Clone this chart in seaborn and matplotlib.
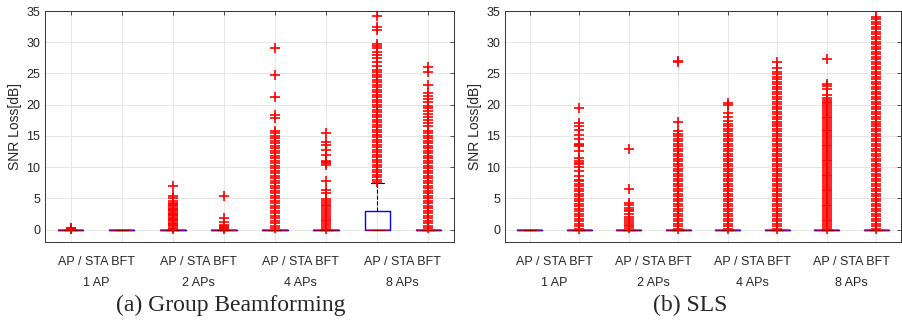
import numpy as np
import pandas as pd
import matplotlib
matplotlib.use('Agg')
import matplotlib.pyplot as plt
import matplotlib.transforms as mtransforms
import seaborn as sns

# categories
groups = ['1 AP', '2 APs', '4 APs', '8 APs']
pair_label = 'AP / STA BFT'
captions = ['(a) Group Beamforming', '(b) SLS']

# most samples have no SNR loss at all
n_zero = 400

# (a) Group Beamforming - non zero SNR loss values [dB]
gb_1ap_ap = [0.05, 0.1, 0.15, 0.2, 0.3]
gb_1ap_sta = []
gb_2ap_ap = [0.1, 0.3, 0.5, 0.7, 0.9, 1.1, 1.3, 1.5, 1.7, 1.9, 2.1, 2.3, 2.5, 2.7, 2.9,
             3.1, 3.3, 3.5, 3.7, 3.9, 4.1, 4.3, 4.5, 5.0, 5.3, 7.0]
gb_2ap_sta = [0.1, 0.2, 0.4, 0.6, 0.8, 1.2, 1.8, 5.3]
gb_4ap_ap = [0.2, 0.6, 1.0, 1.4, 1.8, 2.2, 2.6, 3.0, 3.4, 3.8, 4.2, 4.6, 5.0, 5.4, 5.8,
             6.2, 6.6, 7.0, 7.4, 7.8, 8.2, 8.6, 9.0, 9.4, 9.8, 10.2, 10.6, 11.0, 11.4,
             11.8, 12.2, 12.6, 13.0, 13.4, 13.8, 14.2, 14.6, 15.0, 15.4, 15.8, 17.8,
             18.3, 21.2, 24.7, 29.0]
gb_4ap_sta = [0.1, 0.4, 0.7, 1.0, 1.3, 1.6, 1.9, 2.2, 2.5, 2.8, 3.1, 3.4, 3.7, 4.0, 4.3,
              4.6, 4.9, 5.8, 6.4, 7.7, 10.4, 10.6, 10.8, 11.0, 12.0, 12.8, 13.5, 14.0, 15.5]
# 8 APs / AP has a real box (0 .. 3 dB, whisker to ~7.4 dB)
gb_8ap_ap_core = [0.5, 1.0, 1.5, 2.0, 2.5, 3.0, 3.5, 4.0, 4.5, 5.0, 5.5, 6.0, 6.5, 7.0, 7.4]
gb_8ap_ap_core_n = [16, 16, 16, 16, 16, 80, 5, 5, 5, 5, 5, 5, 5, 5, 5]
gb_8ap_ap = [7.6, 8.0, 8.4, 8.8, 9.2, 9.6, 10.0, 10.4, 10.8, 11.2, 11.6, 12.0, 12.4, 12.8,
             13.2, 13.6, 14.0, 14.4, 14.8, 15.2, 15.6, 16.0, 16.4, 16.8, 17.2, 17.6, 18.0,
             18.4, 18.8, 19.2, 19.6, 20.0, 20.4, 20.8, 21.2, 21.6, 22.0, 22.4, 22.8, 23.2,
             23.6, 24.0, 24.4, 24.8, 25.2, 25.6, 26.2, 26.8, 27.4, 27.9, 28.4, 29.0, 29.4,
             29.7, 31.9, 32.5, 34.2]
gb_8ap_sta = [0.2, 0.6, 1.0, 1.4, 1.8, 2.2, 2.6, 3.0, 3.4, 3.8, 4.2, 4.6, 5.0, 5.4, 5.8,
              6.2, 6.6, 7.0, 7.4, 7.8, 8.2, 8.6, 9.0, 9.4, 9.8, 10.2, 10.6, 11.0, 11.4,
              11.8, 12.2, 12.6, 13.0, 13.4, 13.8, 14.2, 14.6, 15.0, 15.4, 15.8, 16.5, 17.0,
              17.5, 18.0, 18.5, 19.0, 19.5, 19.8, 20.4, 20.9, 21.4, 21.8, 23.1, 25.2, 26.0]

# (b) SLS - non zero SNR loss values [dB]
sls_1ap_ap = []
sls_1ap_sta = [0.1, 0.5, 0.9, 1.3, 1.7, 2.1, 2.5, 2.9, 3.3, 3.7, 4.1, 4.5, 4.9, 5.3, 5.7,
               6.1, 6.5, 6.9, 7.3, 7.7, 7.9, 8.5, 9.3, 10.0, 10.5, 10.7, 10.9, 11.5, 12.6,
               13.3, 13.5, 13.7, 14.5, 15.2, 16.0, 16.5, 17.0, 19.5]
sls_2ap_ap = [0.2, 0.5, 0.8, 1.1, 1.4, 1.7, 2.0, 2.5, 2.9, 3.2, 3.5, 3.9, 4.2, 6.5, 12.9]
sls_2ap_sta = [0.1, 0.5, 0.9, 1.3, 1.7, 2.1, 2.5, 2.9, 3.3, 3.7, 4.1, 4.5, 4.9, 5.3, 5.7,
               6.1, 6.5, 6.9, 7.3, 7.7, 8.1, 8.5, 8.9, 9.3, 9.7, 10.1, 10.5, 10.9, 11.3,
               11.7, 12.1, 12.5, 12.9, 13.3, 13.7, 14.1, 14.5, 14.9, 15.3, 15.8, 17.2,
               26.9, 27.0]
sls_4ap_ap = [0.1, 0.5, 0.9, 1.3, 1.7, 2.1, 2.5, 2.9, 3.3, 3.7, 4.1, 4.5, 4.9, 5.3, 5.7,
              6.1, 6.5, 6.9, 7.3, 7.7, 8.1, 8.5, 8.9, 9.3, 9.7, 10.1, 10.5, 10.9, 11.3,
              11.7, 12.1, 12.5, 12.9, 13.3, 13.7, 14.1, 14.5, 14.9, 15.3, 15.7, 16.1,
              16.5, 16.9, 17.4, 18.0, 18.7, 20.0, 20.2]
sls_4ap_sta = [0.1, 0.5, 0.9, 1.3, 1.7, 2.1, 2.5, 2.9, 3.3, 3.7, 4.1, 4.5, 4.9, 5.3, 5.7,
               6.1, 6.5, 6.9, 7.3, 7.7, 8.1, 8.5, 8.9, 9.3, 9.7, 10.1, 10.5, 10.9, 11.3,
               11.7, 12.1, 12.5, 12.9, 13.3, 13.7, 14.1, 14.5, 14.9, 15.3, 15.7, 16.1,
               16.5, 16.9, 17.3, 17.7, 18.1, 18.5, 18.9, 19.3, 19.7, 20.1, 20.5, 20.9,
               21.3, 21.7, 22.1, 22.5, 22.9, 23.3, 23.7, 24.1, 24.5, 24.9, 25.3, 25.8, 26.8]
sls_8ap_ap = [0.1, 0.4, 0.7, 1.0, 1.3, 1.6, 1.9, 2.2, 2.5, 2.8, 3.1, 3.4, 3.7, 4.0, 4.3,
              4.6, 4.9, 5.2, 5.5, 5.8, 6.1, 6.4, 6.7, 7.0, 7.3, 7.6, 7.9, 8.2, 8.5, 8.8,
              9.1, 9.4, 9.7, 10.0, 10.3, 10.6, 10.9, 11.2, 11.5, 11.8, 12.1, 12.4, 12.7,
              13.0, 13.3, 13.6, 13.9, 14.2, 14.5, 14.8, 15.1, 15.4, 15.7, 16.0, 16.3,
              16.6, 16.9, 17.2, 17.5, 17.8, 18.1, 18.4, 18.7, 19.0, 19.3, 19.6, 19.9,
              20.2, 20.5, 20.8, 21.1, 21.5, 22.5, 23.0, 23.3, 27.3]
sls_8ap_sta = [0.1, 0.5, 0.9, 1.3, 1.7, 2.1, 2.5, 2.9, 3.3, 3.7, 4.1, 4.5, 4.9, 5.3, 5.7,
               6.1, 6.5, 6.9, 7.3, 7.7, 8.1, 8.5, 8.9, 9.3, 9.7, 10.1, 10.5, 10.9, 11.3,
               11.7, 12.1, 12.5, 12.9, 13.3, 13.7, 14.1, 14.5, 14.9, 15.3, 15.7, 16.1,
               16.5, 16.9, 17.3, 17.7, 18.1, 18.5, 18.9, 19.3, 19.7, 20.1, 20.5, 20.9,
               21.3, 21.7, 22.1, 22.5, 22.9, 23.3, 23.7, 24.1, 24.5, 24.9, 25.3, 25.7,
               26.1, 26.5, 26.9, 27.3, 27.7, 28.1, 28.5, 28.9, 29.3, 29.7, 30.1, 30.5,
               30.9, 31.3, 31.7, 32.1, 32.5, 32.9, 33.3, 33.7, 34.1]

gb_cols = [gb_1ap_ap, gb_1ap_sta, gb_2ap_ap, gb_2ap_sta, gb_4ap_ap, gb_4ap_sta,
           list(np.repeat(gb_8ap_ap_core, gb_8ap_ap_core_n)) + gb_8ap_ap, gb_8ap_sta]
sls_cols = [sls_1ap_ap, sls_1ap_sta, sls_2ap_ap, sls_2ap_sta, sls_4ap_ap, sls_4ap_sta,
            sls_8ap_ap, sls_8ap_sta]


def make_df(cols):
    parts = []
    for i, vals in enumerate(cols):
        loss = np.concatenate([np.zeros(n_zero), np.asarray(vals, dtype=float)])
        parts.append(pd.DataFrame({'box': i, 'loss': loss}))
    return pd.concat(parts, ignore_index=True)


sns.set_theme(style='white')
plt.rcParams['font.family'] = ['Liberation Sans', 'DejaVu Sans']

fig = plt.figure(figsize=(9.03, 3.2), dpi=100)
ax1 = fig.add_axes([45 / 903, 78 / 320, 409 / 903, 231 / 320])
ax2 = fig.add_axes([505 / 903, 78 / 320, 396 / 903, 231 / 320])

for ax, cols in [(ax1, gb_cols), (ax2, sls_cols)]:
    df = make_df(cols)
    sns.boxplot(data=df, x='box', y='loss', ax=ax, width=0.5, whis=1.5,
                fill=False, color='blue', linewidth=1.0,
                boxprops=dict(color='blue'),
                medianprops=dict(color='red', linewidth=1.2, alpha=0.65),
                whiskerprops=dict(color='black', linestyle='--', linewidth=0.8),
                capprops=dict(color='black', linewidth=0.8),
                flierprops=dict(marker='+', markeredgecolor='red', markerfacecolor='red',
                                markersize=6.5, markeredgewidth=1.2, linestyle='none'))
    ax.set_xlim(-0.5, 7.5)
    ax.set_ylim(-2, 35)
    ax.set_yticks(range(0, 36, 5))
    ax.set_xticks(range(8))
    ax.set_xticklabels([])
    ax.set_xlabel('')
    ax.set_ylabel('SNR Loss[dB]', fontsize=10, color='#262626', labelpad=3)
    ax.grid(True, color='#e3e3e3', linewidth=0.6)
    ax.set_axisbelow(True)
    ax.tick_params(direction='in', top=True, right=True, length=3, width=0.6,
                   labelsize=9, color='#333333', labelcolor='#262626')
    for sp in ax.spines.values():
        sp.set_color('#333333')
        sp.set_linewidth(0.7)
    trans = mtransforms.blended_transform_factory(ax.transData, ax.transAxes)
    for k, g in enumerate(groups):
        ax.text(2 * k + 0.5, -0.087, pair_label, transform=trans, ha='center',
                va='center', fontsize=9, color='#262626')
        ax.text(2 * k + 0.5, -0.177, g, transform=trans, ha='center',
                va='center', fontsize=9, color='#262626')

fig.text(231 / 903, 1 - 305 / 320, captions[0], family='Liberation Serif',
         fontsize=17, ha='center', va='center')
fig.text(690 / 903, 1 - 305 / 320, captions[1], family='Liberation Serif',
         fontsize=17, ha='center', va='center')

fig.savefig('out.png', dpi=100)
